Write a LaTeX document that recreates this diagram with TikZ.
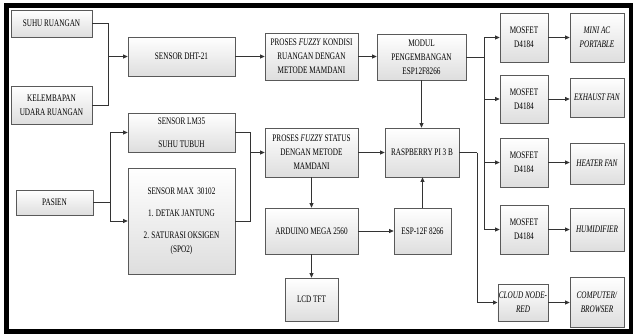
\documentclass[tikz,border=0pt]{standalone}
\usepackage{fontspec}
\setmainfont{Liberation Serif}[FakeStretch=0.72]
\usetikzlibrary{arrows.meta,shadows,calc}
\begin{document}
\begin{tikzpicture}[x=1pt,y=-1pt,
  box/.style={draw=black!65, line width=0.7pt, top color=white, bottom color=black!13,
    drop shadow={shadow xshift=0.9pt, shadow yshift=-0.9pt, opacity=0.45},
    inner sep=1pt, align=center, font=\fontsize{10}{14}\selectfont},
  ln/.style={draw=black!80, line width=0.8pt},
  arr/.style={ln, -{Triangle[length=4.5pt,width=4pt]}}]
\useasboundingbox (0,0) rectangle (633,335);
% frame
\begin{scope}
\clip (0,0) rectangle (633,335);
\draw[line width=5.5pt] (6.5,5.5) rectangle (631.5,331.5);
\end{scope}
% nodes
\node[box, minimum width=81pt, minimum height=27pt] (suhu) at (51.5,23.5) {SUHU RUANGAN};
\node[box, minimum width=81pt, minimum height=38pt] (kelem) at (51.5,105) {KELEMBAPAN\\UDARA RUANGAN};
\node[box, minimum width=77pt, minimum height=25pt] (pasien) at (54.5,202.5) {PASIEN};
\node[box, minimum width=107pt, minimum height=39pt] (dht) at (181.5,56.5) {SENSOR DHT-21};
\node[box, minimum width=107pt, minimum height=39pt] (lm35) at (181.5,132.5) {SENSOR LM35\\[9pt]SUHU TUBUH};
\node[box, minimum width=107pt, minimum height=106pt] (max) at (181.5,221) {SENSOR MAX \ 30102\\[8pt]1. DETAK JANTUNG\\[8pt]2. SATURASI OKSIGEN\\(SPO2)};
\node[box, minimum width=93pt, minimum height=47pt] (kondisi) at (311.5,56.5) {PROSES \textit{FUZZY} KONDISI\\RUANGAN DENGAN\\METODE MAMDANI};
\node[box, minimum width=89pt, minimum height=46pt] (modul) at (421.5,57) {MODUL\\PENGEMBANGAN\\ESP12F8266};
\node[box, minimum width=93pt, minimum height=49pt] (status) at (311.5,152.5) {PROSES \textit{FUZZY} STATUS\\DENGAN METODE\\MAMDANI};
\node[box, minimum width=93pt, minimum height=46pt] (arduino) at (311.5,231) {ARDUINO MEGA 2560};
\node[box, minimum width=53pt, minimum height=43pt] (lcd) at (311.5,299.5) {LCD TFT};
\node[box, minimum width=57pt, minimum height=46pt] (esp) at (422.5,231) {ESP-12F 8266};
\node[box, minimum width=74pt, minimum height=49pt] (rasp) at (422,152.5) {RASPBERRY PI 3 B};
\node[box, minimum width=48pt, minimum height=49pt] (mos1) at (524,37.5) {MOSFET\\D4184};
\node[box, minimum width=48pt, minimum height=48pt] (mos2) at (524,99) {MOSFET\\D4184};
\node[box, minimum width=48pt, minimum height=49pt] (mos3) at (524,162.5) {MOSFET\\D4184};
\node[box, minimum width=48pt, minimum height=49pt] (mos4) at (524,229.5) {MOSFET\\D4184};
\node[box, minimum width=54pt, minimum height=49pt] (ac) at (597,37.5) {\textit{MINI AC}\\\textit{PORTABLE}};
\node[box, minimum width=54pt, minimum height=39pt] (exh) at (597,97.5) {\textit{EXHAUST FAN}};
\node[box, minimum width=54pt, minimum height=41pt] (heat) at (597,163.5) {\textit{HEATER FAN}};
\node[box, minimum width=54pt, minimum height=43pt] (hum) at (597,229.5) {\textit{HUMIDIFIER}};
\node[box, minimum width=46pt, minimum height=37pt] (cloud) at (523,302.5) {\textit{CLOUD NODE-}\\\textit{RED}};
\node[box, minimum width=54pt, minimum height=50pt] (comp) at (597,302) {\textit{COMPUTER/}\\\textit{BROWSER}};
% junctions
\coordinate (j1) at (108,56.5);
\coordinate (j2) at (110,202.5);
\coordinate (j3) at (250,152.5);
\coordinate (bus) at (484,57);
\coordinate (j4) at (477,152.5);
% connectors
\draw[ln] (suhu.east) -| (j1);
\draw[ln] (kelem.east) -| (j1);
\draw[arr] (j1) -- (dht.west);
\draw[ln] (pasien.east) -- (j2);
\draw[arr] (j2) |- (lm35.west);
\draw[arr] (j2) |- (max.west);
\draw[ln] (lm35.east) -| (j3);
\draw[ln] (max.east) -| (j3);
\draw[arr] (j3) -- (status.west);
\draw[arr] (dht.east) -- (kondisi.west);
\draw[arr] (kondisi.east) -- (kondisi.east -| modul.west);
\draw[arr] (modul.south) -- (modul.south |- rasp.north);
\draw[arr] (status.east) -- (rasp.west);
\draw[arr] (status.south) -- (arduino.north);
\draw[arr] (arduino.east) -- (esp.west);
\draw[arr] (arduino.south) -- (lcd.north);
\draw[arr] (esp.north) -- (esp.north |- rasp.south);
\draw[ln] (modul.east) -- (bus);
\draw[arr] (bus) |- (mos1.west);
\draw[arr] (bus) |- (mos2.west);
\draw[arr] (bus) |- (mos3.west);
\draw[arr] (bus) |- (mos4.west);
\draw[arr] (mos1.east) -- (ac.west);
\draw[arr] (mos2.east) -- (mos2.east -| exh.west);
\draw[arr] (mos3.east) -- (mos3.east -| heat.west);
\draw[arr] (mos4.east) -- (hum.west);
\draw[ln] (rasp.east) -- (j4);
\draw[arr] (j4) |- (cloud.west);
\draw[arr] (cloud.east) -- (cloud.east -| comp.west);
\end{tikzpicture}
\end{document}
